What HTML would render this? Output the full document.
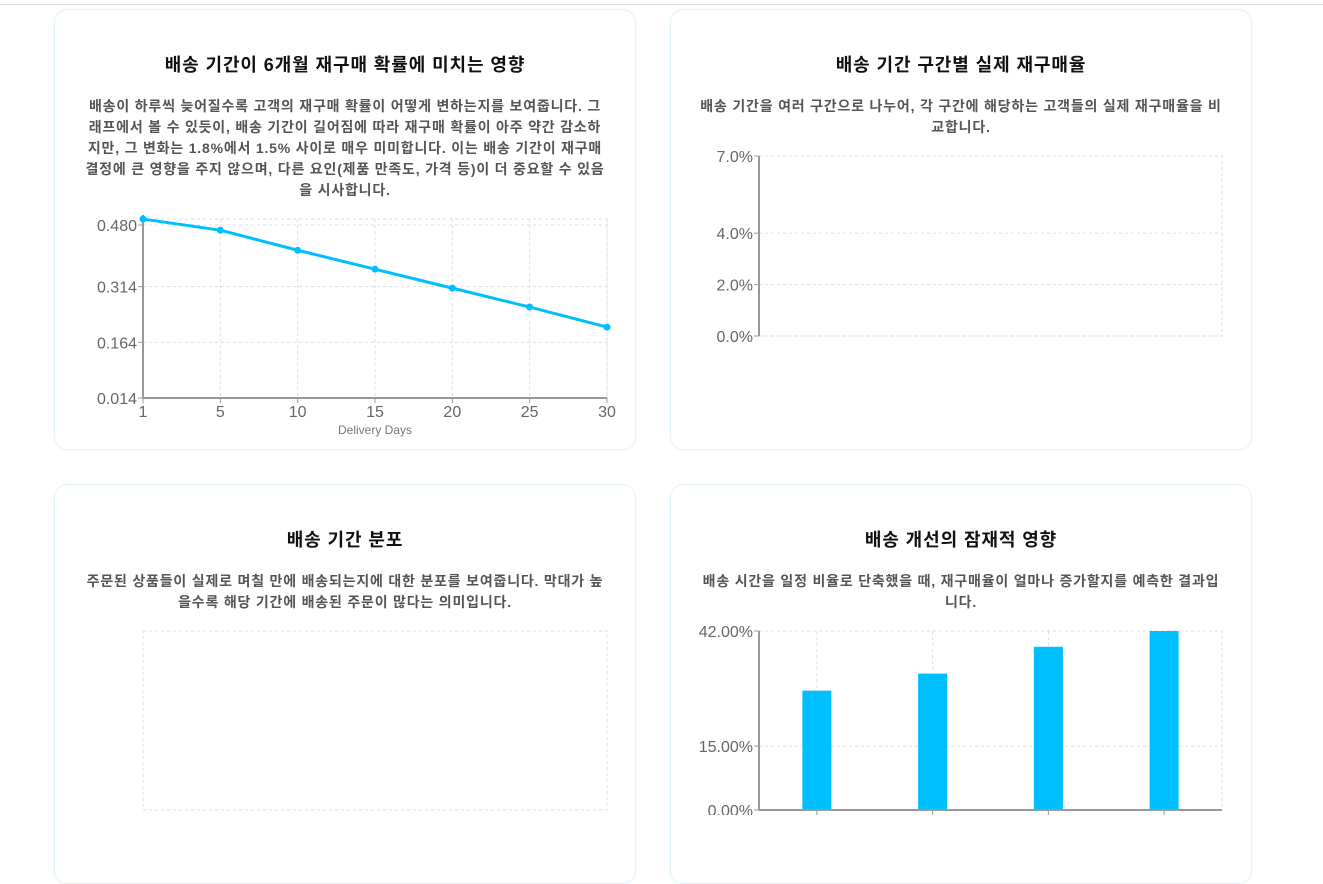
<!DOCTYPE html>
<html><head><meta charset="utf-8"><style>
body{margin:0;width:1323px;height:815px;overflow:hidden;background:#fff;font-family:"Liberation Sans","Noto Sans CJK KR",sans-serif;position:relative}
.topline{position:absolute;left:0;top:4px;width:1323px;height:1px;background:#ddd}
.card{position:absolute;width:582px;height:441px;border:1px solid #e3f3fb;border-radius:14px;box-sizing:border-box;box-shadow:0 1px 4px rgba(0,150,220,0.05)}
.card h2{position:absolute;left:0;right:0;top:41px;margin:0;text-align:center;font-size:18px;letter-spacing:0.9px;font-weight:bold;color:#111}
.card p{position:absolute;left:0;right:0;top:86px;margin:0;text-align:center;font-size:14px;letter-spacing:0.8px;font-weight:bold;color:#555;line-height:21px;white-space:nowrap}
svg{position:absolute;left:0;top:0}
svg text{font-family:"Liberation Sans","Noto Sans CJK KR",sans-serif}
</style></head><body>
<div class="topline"></div>

<div class="card" style="left:54px;top:9px">
<h2>배송 기간이 6개월 재구매 확률에 미치는 영향</h2>
<p>배송이 하루씩 늦어질수록 고객의 재구매 확률이 어떻게 변하는지를 보여줍니다. 그<br>래프에서 볼 수 있듯이, 배송 기간이 길어짐에 따라 재구매 확률이 아주 약간 감소하<br>지만, 그 변화는 1.8%에서 1.5% 사이로 매우 미미합니다. 이는 배송 기간이 재구매<br>결정에 큰 영향을 주지 않으며, 다른 요인(제품 만족도, 가격 등)이 더 중요할 수 있음<br>을 시사합니다.</p>
</div>
<div class="card" style="left:670px;top:9px">
<h2>배송 기간 구간별 실제 재구매율</h2>
<p>배송 기간을 여러 구간으로 나누어, 각 구간에 해당하는 고객들의 실제 재구매율을 비<br>교합니다.</p>
</div>
<div class="card" style="left:54px;top:484px;height:400px">
<h2>배송 기간 분포</h2>
<p>주문된 상품들이 실제로 며칠 만에 배송되는지에 대한 분포를 보여줍니다. 막대가 높<br>을수록 해당 기간에 배송된 주문이 많다는 의미입니다.</p>
</div>
<div class="card" style="left:670px;top:484px;height:400px">
<h2>배송 개선의 잠재적 영향</h2>
<p>배송 시간을 일정 비율로 단축했을 때, 재구매율이 얼마나 증가할지를 예측한 결과입<br>니다.</p>
</div>

<svg id="chart" width="1323" height="815"></svg>

<script>
// Line chart data
const days = [1,5,10,15,20,25,30];
const probs = [0.496,0.466,0.412,0.361,0.310,0.259,0.205];
const lineYTicks = [0.014,0.164,0.314,0.480];
// Actual repurchase chart ticks
const rateTicks = [0,2,4,7];
const rateLabels = ['0.0%','2.0%','4.0%','7.0%'];
// Improvement chart data
const improveVals = [28,32,38.3,42];
const improveTicks = [0,15,42];
const improveLabels = ['0.00%','15.00%','42.00%'];

const svg = document.getElementById('chart');
const NS='http://www.w3.org/2000/svg';
function mk(tag,attrs,parent){const e=document.createElementNS(NS,tag);for(const k in attrs)e.setAttribute(k,attrs[k]);(parent||svg).appendChild(e);return e;}
function txt(x,y,s,anchor,size,color){const t=mk('text',{x:x,y:y,'text-anchor':anchor,'font-size':size,fill:color});t.textContent=s;return t;}
function frame(x0,x1,y0,y1){
  const g=mk('g',{});
  
  
  mk('rect',{x:x0,y:y0,width:x1-x0,height:y1-y0,fill:'none',stroke:'#ddd','stroke-dasharray':'3,3'},g);
  return g;
}

// ---- Line chart (categorical point scale) ----
(function(){
  const x0=143,x1=607,y0=219,y1=398;
  const step=(x1-x0)/(days.length-1);
  const xs=i=>x0+i*step;
  const yMin=0.014,yMax=0.014+(y1-y0)*(0.466/173);
  const ys=v=>y1-(v-yMin)/(yMax-yMin)*(y1-y0);
  const g=frame(x0,x1,y0,y1);
  days.forEach((d,i)=>{mk('line',{x1:xs(i),x2:xs(i),y1:y0,y2:y1,stroke:'#ddd','stroke-dasharray':'3,3'},g);
    mk('line',{x1:xs(i),x2:xs(i),y1:y1,y2:y1+5,stroke:'#999'});
    const t=txt(xs(i),y1+19,String(d),'middle',16,'#666');
    
    });
  lineYTicks.forEach(v=>{mk('line',{x1:x0,x2:x1,y1:ys(v),y2:ys(v),stroke:'#ddd','stroke-dasharray':'3,3'},g);
    mk('line',{x1:x0-5,x2:x0,y1:ys(v),y2:ys(v),stroke:'#999'});
    const t=txt(x0-6,ys(v)+6,v.toFixed(3),'end',16,'#666');
    
    });
  mk('line',{x1:x0,x2:x0,y1:y0-4,y2:y1,stroke:'#999','stroke-width':2});
  mk('line',{x1:x0,x2:x1,y1:y1,y2:y1,stroke:'#999','stroke-width':2});
  const xt=txt((x0+x1)/2,434,'Delivery Days','middle',12,'#777');
  
  
  const p=mk('polyline',{points:days.map((d,i)=>xs(i)+','+ys(probs[i])).join(' '),fill:'none',stroke:'#00bfff','stroke-width':3});
  
  
  days.forEach((d,i)=>{const c=mk('circle',{cx:xs(i),cy:ys(probs[i]),r:3.5,fill:'#00bfff'});
    
    });
})();

// ---- Actual repurchase (empty) ----
(function(){
  const x0=759,x1=1222,y0=156,y1=336;
  const ys=v=>y1-v/7*(y1-y0);
  const g=frame(x0,x1,y0,y1);
  rateTicks.forEach((v,i)=>{mk('line',{x1:x0,x2:x1,y1:ys(v),y2:ys(v),stroke:'#ddd','stroke-dasharray':'3,3'},g);
    mk('line',{x1:x0-5,x2:x0,y1:ys(v),y2:ys(v),stroke:'#999'});
    const t=txt(x0-6,ys(v)+6,rateLabels[i],'end',16,'#666');
    
    });
  mk('line',{x1:x0,x2:x0,y1:y0,y2:y1,stroke:'#999','stroke-width':2});
})();

// ---- Distribution (empty) ----
frame(143,607,631,810);

// ---- Improvement bar chart ----
(function(){
  const x0=759,x1=1222,y0=631,y1=810;
  const ys=v=>y1-v/42*(y1-y0);
  const band=(x1-x0)/improveVals.length;
  const xs=i=>x0+band*(i+0.5);
  const g=frame(x0,x1,y0,y1);
  improveTicks.forEach((v,i)=>{mk('line',{x1:x0,x2:x1,y1:ys(v),y2:ys(v),stroke:'#ddd','stroke-dasharray':'3,3'},g);
    mk('line',{x1:x0-5,x2:x0,y1:ys(v),y2:ys(v),stroke:'#999'});
    const t=txt(x0-6,ys(v)+6,improveLabels[i],'end',16,'#666');
    
    });
  improveVals.forEach((v,i)=>{
    mk('line',{x1:xs(i),x2:xs(i),y1:y0,y2:y1,stroke:'#ddd','stroke-dasharray':'3,3'},g);
    const r=mk('rect',{x:xs(i)-14.5,y:ys(v),width:29,height:y1-ys(v),fill:'#00bfff'});
    
    
    mk('line',{x1:xs(i),x2:xs(i),y1:y1,y2:y1+5,stroke:'#999'});
  });
  mk('line',{x1:x0,x2:x0,y1:y0,y2:y1,stroke:'#999','stroke-width':2});
  mk('line',{x1:x0,x2:x1,y1:y1,y2:y1,stroke:'#999','stroke-width':2});
})();
</script>
</body></html>
